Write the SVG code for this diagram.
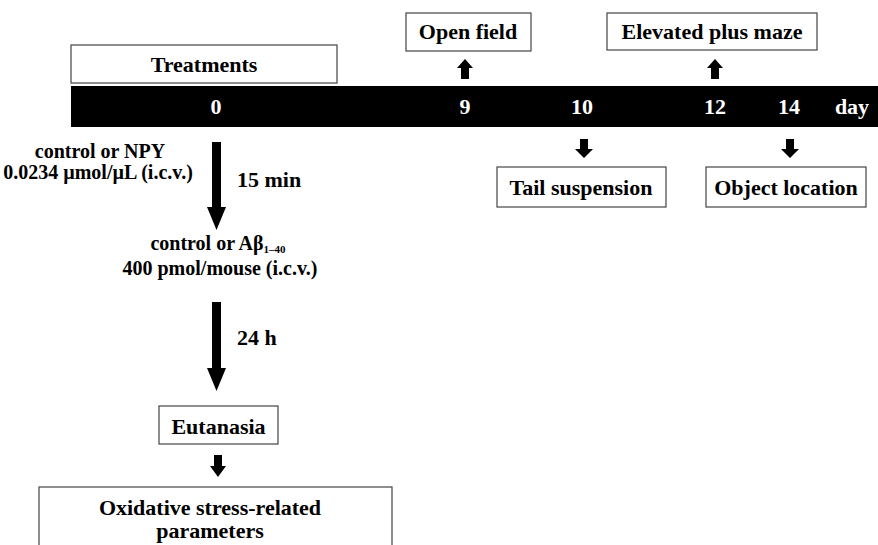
<svg xmlns="http://www.w3.org/2000/svg" width="878" height="545" viewBox="0 0 878 545">
<style>
text{font-family:'Liberation Serif','Times New Roman','DejaVu Serif',serif;font-weight:700;fill:#000}
.t{font-size:22px}
.s{font-size:20px}
.m{text-anchor:middle}
.w{fill:#fff}
.box{fill:#fff;stroke:#444;stroke-width:1.2}
.arr{fill:#000}
</style>
<rect width="878" height="545" fill="#fff"/>
<g id="timeline">
<rect x="71" y="86" width="807" height="41" fill="#000"/>
<text class="t m w" x="216" y="114">0</text>
<text class="t m w" x="465" y="114">9</text>
<text class="t m w" x="582" y="114">10</text>
<text class="t m w" x="715" y="114">12</text>
<text class="t m w" x="789" y="114">14</text>
<text class="t m w" x="852" y="114">day</text>
</g>
<g id="treatments"><rect class="box" x="71" y="45" width="266" height="38"/><text class="t m" x="204" y="72">Treatments</text></g>
<g id="open-field"><rect class="box" x="406" y="13" width="125" height="38"/><text class="t m" x="468" y="39">Open field</text></g>
<g id="epm"><rect class="box" x="607" y="13" width="210" height="37"/><text class="t m" x="712" y="39">Elevated plus maze</text></g>
<g id="tail"><rect class="box" x="497" y="167" width="169" height="40"/><text class="t m" x="581" y="195">Tail suspension</text></g>
<g id="object"><rect class="box" x="706" y="167" width="160" height="40"/><text class="t m" x="786" y="195">Object location</text></g>
<g id="npy"><text class="s m" x="100" y="158">control or NPY</text><text class="s m" x="98" y="179">0.0234 µmol/µL (i.c.v.)</text></g>
<g id="abeta"><text class="s m" x="218" y="250">control or Aβ<tspan style="font-size:11px" dy="3">1–40</tspan></text><text class="s m" x="220" y="275">400 pmol/mouse (i.c.v.)</text></g>
<g id="eutanasia"><rect class="box" x="159" y="406" width="119" height="38"/><text class="t m" x="218.5" y="434">Eutanasia</text></g>
<g id="oxidative"><rect class="box" x="39" y="487" width="353" height="70"/><text class="t m" x="210" y="515">Oxidative stress-related</text><text class="t m" x="210" y="538">parameters</text></g>
<g id="connectors">
<path class="arr" d="M212,142 H221 V207 H226 L216.5,230 L207,207 H212 Z"/>
<path class="arr" d="M212,302 H221 V368 H226 L216.5,391 L207,368 H212 Z"/>
<path class="arr" d="M214,455 H222 V466 H226 L218,477 L210,466 H214 Z"/>
<path class="arr" d="M465,59 L473,68 H469 V79 H461 V68 H457 Z"/>
<path class="arr" d="M715,59 L723,68 H719 V79 H711 V68 H707 Z"/>
<path class="arr" d="M580,139 H588 V149 H593 L584,158 L575,149 H580 Z"/>
<path class="arr" d="M786,139 H794 V149 H799 L790,158 L781,149 H786 Z"/>
<text class="t" x="237" y="187">15 min</text>
<text class="t" x="237" y="345">24 h</text>
</g>
</svg>
